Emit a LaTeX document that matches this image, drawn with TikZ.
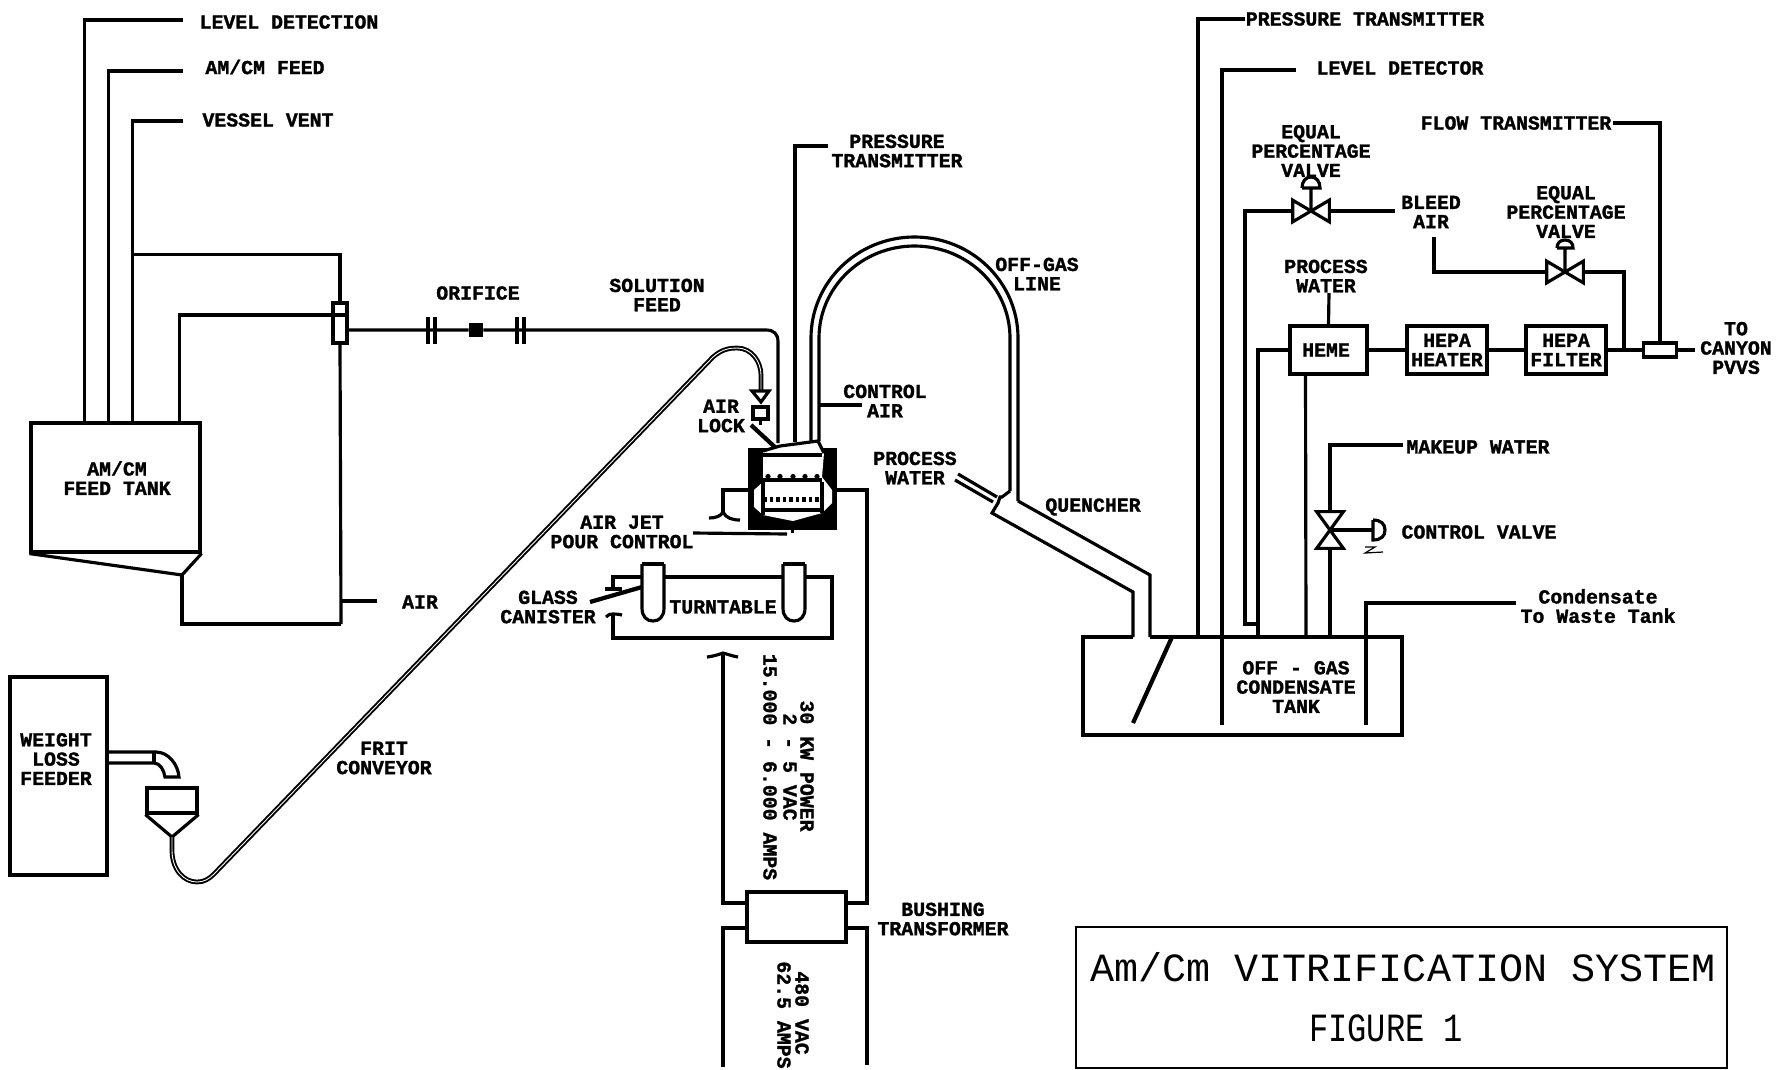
\documentclass[tikz,border=0pt]{standalone}
\usepackage{fontspec}
\setmonofont[BoldFeatures={FakeBold=1.4}]{Liberation Mono}
\usetikzlibrary{calc, positioning}

\begin{document}
\begin{tikzpicture}[
		x=0.02cm, y=-0.02cm,
		% Line styles
		pipe/.style={draw=black, line width=1.8pt},
		thickpipe/.style={draw=black, line width=2.4pt},
		conveyor/.style={draw=black, line width=1.1pt, double=white, double distance=0.5pt},
		% Equipment styles
		unitbox/.style={draw=black, line width=1.8pt, inner sep=0pt, fill=white},
		valvebox/.style={inner sep=0pt, minimum width=0.72cm, minimum height=0.42cm},
		% Text styles
		tag/.style={font=\ttfamily\bfseries\fontsize{11.3}{11}\selectfont, align=center, inner sep=0pt},
		tagside/.style={tag, rotate=-90},
		titletext/.style={font=\ttfamily\fontsize{22.8}{24}\selectfont, inner sep=0pt}
		]
		\useasboundingbox (0,0) rectangle (1791,1069);
		
		% --- FEED TANK ---
		\node[unitbox, minimum width=3.38cm, minimum height=2.58cm] (Tank_feed) at (115.5,487.5) {};
		\node[tag] (T_feed) at (117,478) {AM/CM\\FEED TANK};
		\coordinate (Hop_tip) at (182,575);
		\coordinate (Air_bot) at (341,624);
		\draw[pipe] (Tank_feed.south west) -- (Hop_tip) -- (Tank_feed.south east);
		\draw[pipe] (Hop_tip) |- (Air_bot);
		
		\node[tag] (T_level) at (289,22) {LEVEL DETECTION};
		\node[tag] (T_amcm) at (265,67) {AM/CM FEED};
		\node[tag] (T_vent) at (268,120) {VESSEL VENT};
		\coordinate (E_level) at (183,20);
		\coordinate (E_amcm) at (183,71);
		\coordinate (E_vent) at (183,121);
		\draw[pipe] (E_level) -| ($(Tank_feed.north west)+(55,0)$);
		\draw[pipe] (E_amcm) -| ($(Tank_feed.north west)+(79,0)$);
		\draw[pipe] (E_vent) -| ($(Tank_feed.north west)+(103,0)$);
		
		% Air tee
		\node[unitbox, minimum width=0.28cm, minimum height=0.8cm] (Tee_air) at (340,323) {};
		\coordinate (Tee_div) at (340,315);
		\draw[pipe] (Tee_air.west |- Tee_div) -- (Tee_air.east |- Tee_div);
		\draw[pipe] (Tee_air.north) |- ($(Tank_feed.north west)+(103,-167)$) -- ($(Tank_feed.north west)+(103,0)$);
		\draw[pipe] (Tee_air.south) -- (Air_bot);
		\draw[pipe] ($(Tank_feed.north west)+(150,0)$) |- (Tee_air.west |- Tee_div);
		\node[tag] (T_air) at (420,602) {AIR};
		\coordinate (E_air) at (377,601);
		\draw[pipe] (E_air) -- (E_air -| Air_bot);
		
		% --- ORIFICE AND SOLUTION FEED ---
		\node[tag] (T_orifice) at (478,293) {ORIFICE};
		\node[tag] (T_solution) at (657,295) {SOLUTION\\FEED};
		\node[fill=black, inner sep=0pt, minimum size=0.28cm] (Orifice) at (476,330) {};
		\foreach \x in {428,435,517,524} {
			\draw[thickpipe] (\x,317) -- (\x,344);
		}
		\coordinate (E_feed) at (778,443);
		\draw[pipe] (Tee_air.east |- Orifice) -- (Orifice) -- (766,330) .. controls (774,330) and (778,334) .. (778,342) -- (E_feed);
		
		% --- WEIGHT LOSS FEEDER AND FRIT CONVEYOR ---
		\node[unitbox, minimum width=1.94cm, minimum height=3.96cm] (Box_weight) at (58.5,776) {};
		\node[tag] (T_weight) at (56,759) {WEIGHT\\LOSS\\FEEDER};
		\draw[pipe] (Box_weight.east |- 0,752) -- (156,752) .. controls (168,752) and (178,764) .. (179,777) -- (165,777) .. controls (164,770) and (160,763) .. (154,763) -- (Box_weight.east |- 0,763);
		\draw[pipe] (154,752) -- (154,763);
		\node[unitbox, minimum width=1cm, minimum height=0.5cm] (Hopper) at (172,800.5) {};
		\coordinate (Hop_out) at (172,837);
		\draw[pipe] (Hopper.south west) -- (Hop_out) -- (Hopper.south east);
		\coordinate (Frit_end) at (761,391);
		\draw[conveyor] (Hop_out) -- (172,850) .. controls (172,870) and (184,882) .. (197,882) .. controls (204,882) and (209,879) .. (214,874) -- (713,357) .. controls (722,349) and (730,348) .. (737,348) .. controls (752,348) and (761,362) .. (761,375) -- (Frit_end);
		\node[tag] (T_frit) at (384,758) {FRIT\\CONVEYOR};
		
		% --- AIR LOCK ---
		\node[tag] (T_lock) at (721,416) {AIR\\LOCK};
		\draw[pipe] (752,391) -- (769,391) -- (761,402) -- cycle;
		\node[unitbox, minimum width=0.3cm, minimum height=0.24cm] (Box_lock) at (760.5,413) {};
		\draw[pipe] (Box_lock.south) -- (760.5,425);
		\draw[thickpipe] (751,425) -- (777,449);
		
		% --- MELTER ---
		\node[fill=black, inner sep=0pt, minimum width=1.78cm, minimum height=1.64cm] (Melter) at (792.5,489) {};
		\fill[white] (763,451) -- (780,446) -- (818,441) -- (824,453) -- (822,477) -- (832,490) -- (832,503) -- (822,513) -- (793,521) -- (763,515) -- (754,507) -- (754,490) -- (763,482) -- cycle;
		\draw[pipe] (763,451) -- (780,446) -- (818,441) -- (824,453);
		\foreach \y in {455,480,510} {
			\draw[pipe] (763,\y) -- (822,\y);
		}
		\foreach \x in {768,780,793,805,817} {
			\fill (\x,476.5) circle[radius=1.5pt];
		}
		\foreach \x in {765,771.5,...,820} {
			\draw[pipe] (\x,497) -- (\x,502);
		}
		\draw[pipe] (763,482) -- (763,515);
		\draw[pipe] (822,482) -- (822,513);
		\draw[pipe] (Melter.south) -- ($(Melter.south)+(0,3)$);
		
		% Air jet
		\coordinate (Jet_in) at (723,490);
		\draw[pipe] (Jet_in -| Melter.west) -- (Jet_in) -- (723,512);
		\draw[pipe] (709,518) .. controls (716,518) and (721,516) .. (723,512) .. controls (726,518) and (732,520) .. (740,520);
		\node[tag] (T_jet) at (622,532) {AIR JET\\POUR CONTROL};
		\coordinate (E_jet) at (693,533);
		\draw[pipe] (E_jet) -- (787,534);
		
		% Pressure transmitter
		\node[tag] (T_press) at (897,151) {PRESSURE\\TRANSMITTER};
		\coordinate (E_press) at (828,146);
		\draw[pipe] (E_press) -| (795,442);
		
		% --- OFF-GAS LINE ---
		\node[tag] (T_offgas) at (1037,274) {OFF-GAS\\LINE};
		\draw[pipe] (811,441) -- (811,338) .. controls (811,282.2) and (857.3,237) .. (914.5,237) .. controls (971.7,237) and (1018,282.2) .. (1018,338) -- (1018,501);
		\draw[pipe] (819,441) -- (819,338) .. controls (819,287.2) and (861.8,246) .. (914.5,246) .. controls (967.2,246) and (1010,287.2) .. (1010,338) -- (1010,491);
		\node[tag] (T_control) at (885,401) {CONTROL\\AIR};
		\coordinate (E_control) at (862,405);
		\draw[pipe] (E_control) -- (819,405);
		
		% --- QUENCHER ---
		\node[tag] (T_quench) at (1093,507) {QUENCHER};
		\node[tag] (T_water) at (915,468) {PROCESS\\WATER};
		\draw[pipe] (958,474) -- (997,497);
		\draw[pipe] (955,480) -- (993,502);
		\draw[pipe] (1010,491) -- (1002,497) -- (1000,497) -- (998,503) -- (992,513) -- (1133,592) -- (1133,637);
		\draw[pipe] (1018,501) -- (1150,575) -- (1150,637);
		
		% --- TURNTABLE ---
		\node[tag] (T_turn) at (723,607) {TURNTABLE};
		\node[tag] (T_glass) at (548,607) {GLASS\\CANISTER};
		\coordinate (Turn_a) at (613,589);
		\coordinate (Turn_b) at (613,614);
		\draw[pipe] (Turn_a) -- (613,577) -- (642,577);
		\draw[pipe] (664,577) -- (783,577);
		\draw[pipe] (805,577) -- (832,577) -- (832,638) -- (613,638) -- (Turn_b);
		\draw[pipe] (605,589) -- (622,589);
		\draw[pipe] (606,617) .. controls (609,614) and (611,614) .. (Turn_b) .. controls (615,614) and (618,614) .. (622,615);
		\foreach \x in {642,783} {
			\draw[pipe] (\x,564) -- (\x+22,564);
			\draw[pipe] (\x,564) -- (\x,608) .. controls (\x,617) and (\x+5,621) .. (\x+11,621) .. controls (\x+17,621) and (\x+22,617) .. (\x+22,608) -- (\x+22,564);
		}
		\draw[thickpipe] (590,602) -- (642,587);
		
		% --- BUSHING TRANSFORMER ---
		\node[unitbox, minimum width=1.98cm, minimum height=1cm] (Box_bush) at (796.5,917) {};
		\node[tag] (T_bush) at (943,919) {BUSHING\\TRANSFORMER};
		\coordinate (Pow_l) at (723,903);
		\coordinate (Pow_r) at (867,903);
		\coordinate (Low_l) at (723,928);
		\coordinate (Low_r) at (867,928);
		\draw[pipe] (Melter.east |- Jet_in) -| (Pow_r) -- (Pow_r -| Box_bush.east);
		\draw[pipe] (Pow_l -| Box_bush.west) -- (Pow_l) -- (723,653);
		\draw[pipe] (707,657) .. controls (715,656) and (720,654) .. (723,653) .. controls (727,654) and (732,656) .. (738,657);
		\draw[pipe] (Low_l -| Box_bush.west) -- (Low_l) -- (723,1067);
		\draw[pipe] (Low_r -| Box_bush.east) -- (Low_r) -- (867,1065);
		\node[tagside] (T_kw) at (807,766) {30 KW POWER};
		\node[tagside] (T_vac) at (790,767) {2 - 5 VAC};
		\node[tagside] (T_amps) at (770,767) {15.000 - 6.000 AMPS};
		\node[tagside] (T_in_v) at (802,1013) {480 VAC};
		\node[tagside] (T_in_a) at (784,1015) {62.5 AMPS};
		
		% --- CONDENSATE TANK ---
		\node[tag] (T_cond) at (1296,687) {OFF - GAS\\CONDENSATE\\TANK};
		\coordinate (Top_l) at (1133,637);
		\coordinate (Top_r) at (1150,637);
		\draw[pipe] (Top_l) -- (1083,637) -- (1083,735) -- (1402,735) -- (1402,637) -- (Top_r);
		\draw[thickpipe] (1172,637) -- (1133,723);
		
		\node[tag] (T_ptx) at (1365,19) {PRESSURE TRANSMITTER};
		\node[tag] (T_lvl) at (1400,68) {LEVEL DETECTOR};
		\coordinate (E_ptx) at (1245,19);
		\coordinate (E_lvl) at (1296,70);
		\draw[pipe] (E_ptx) -| (1198,637);
		\draw[pipe] (E_lvl) -| (1222,725);
		\node[tag] (T_waste) at (1598,606) {Condensate\\To Waste Tank};
		\coordinate (E_waste) at (1516,603);
		\draw[pipe] (E_waste) -| (1366,725);
		
		% --- OFF-GAS TRAIN ---
		\node[unitbox, minimum width=1.54cm, minimum height=0.96cm] (Box_heme) at (1328.5,350) {};
		\node[tag] (T_heme) at (1326,350) {HEME};
		\node[unitbox, tag, minimum width=1.6cm, minimum height=0.96cm] (Box_heater) at (1447,350) {HEPA\\HEATER};
		\node[unitbox, tag, minimum width=1.6cm, minimum height=0.96cm] (Box_filter) at (1566,350) {HEPA\\FILTER};
		\node[unitbox, minimum width=0.66cm, minimum height=0.28cm] (Box_flow) at (1660,350) {};
		\node[tag] (T_canyon) at (1736,348) {TO\\CANYON\\PVVS};
		\coordinate (E_canyon) at (1695,350);
		\draw[pipe] (Box_heme) -- (Box_heater);
		\draw[pipe] (Box_heater) -- (Box_filter);
		\draw[pipe] (Box_filter) -- (Box_flow);
		\draw[pipe] (Box_flow) -- (E_canyon);
		\draw[pipe] ($(Box_heme.south)+(-23,0)$) -- (1306,637);
		\node[tag] (T_pwater) at (1326,276) {PROCESS\\WATER};
		\draw[pipe] (Box_heme.north) -- (1329,293);
		\coordinate (J_low) at (1245,624);
		\coordinate (J_hem) at (1258,624);
		\draw[pipe] (Box_heme.west) -| (1258,637);
		
		% Bleed air valve
		\node[valvebox] (V_bleed) at (1311,211) {};
		\node[tag] (T_eq1) at (1311,151) {EQUAL\\PERCENTAGE\\VALVE};
		\node[tag] (T_bleed) at (1431,212) {BLEED\\AIR};
		\coordinate (E_bleed) at (1395,211);
		\draw[pipe] (V_bleed.north west) -- (V_bleed.south east) -- (V_bleed.north east) -- (V_bleed.south west) -- cycle;
		\draw[pipe] (V_bleed.center) -- (1311,188) (1302,188) -- (1320,188) .. controls (1320,181) and (1316,177) .. (1311,177) .. controls (1306,177) and (1302,181) .. (1302,188);
		\draw[pipe] (V_bleed.east) -- (E_bleed);
		\draw[pipe] (V_bleed.west) -| (J_low) -- (J_hem);
		
		% Filter bypass valve
		\node[valvebox] (V_air) at (1565,272) {};
		\node[tag] (T_eq2) at (1566,212) {EQUAL\\PERCENTAGE\\VALVE};
		\coordinate (E_byp) at (1434,237);
		\coordinate (J_byp) at (1624,350);
		\draw[pipe] (V_air.north west) -- (V_air.south east) -- (V_air.north east) -- (V_air.south west) -- cycle;
		\draw[pipe] (V_air.center) -- (1565,248) (1557,248) -- (1573,248) .. controls (1573,243) and (1570,240) .. (1565,240) .. controls (1560,240) and (1557,243) .. (1557,248);
		\draw[pipe] (V_air.west) -| (E_byp);
		\draw[pipe] (V_air.east) -| (J_byp);
		
		% Flow transmitter
		\node[tag] (T_flow) at (1516,123) {FLOW TRANSMITTER};
		\coordinate (E_flow) at (1613,123);
		\draw[pipe] (E_flow) -| (Box_flow.north);
		
		% Makeup water valve
		\node[inner sep=0pt, minimum width=0.52cm, minimum height=0.72cm] (V_make) at (1330,530) {};
		\node[tag] (T_make) at (1478,447) {MAKEUP WATER};
		\node[tag] (T_cv) at (1479,532) {CONTROL VALVE};
		\coordinate (E_make) at (1403,445);
		\coordinate (Act_make) at (1373,530);
		\draw[pipe] (V_make.north west) -- (V_make.north east) -- (V_make.south west) -- (V_make.south east) -- cycle;
		\draw[pipe] (E_make) -| (V_make.north);
		\draw[pipe] (V_make.south) -- (1330,637);
		\draw[pipe] (V_make.center) -- (Act_make);
		\draw[pipe] (1373,520) -- (1373,540) .. controls (1381,540) and (1385,536) .. (1385,530) .. controls (1385,524) and (1381,520) .. (1373,520);
		\draw[line width=0.7pt] (1365,547) -- (1375,547) -- (1365,553) -- (1383,552);
		
		% --- TITLE ---
		\node[draw=black, line width=1.1pt, minimum width=13.02cm, minimum height=2.82cm] (Box_title) at (1401.5,997.5) {};
		\node[titletext] (T_title) at (1403,967) {Am/Cm VITRIFICATION SYSTEM};
		\node[titletext] (T_fig) at (1386,1028) {\scalebox{0.8}[1]{FIGURE 1}};
		
	\end{tikzpicture}
\end{document}
